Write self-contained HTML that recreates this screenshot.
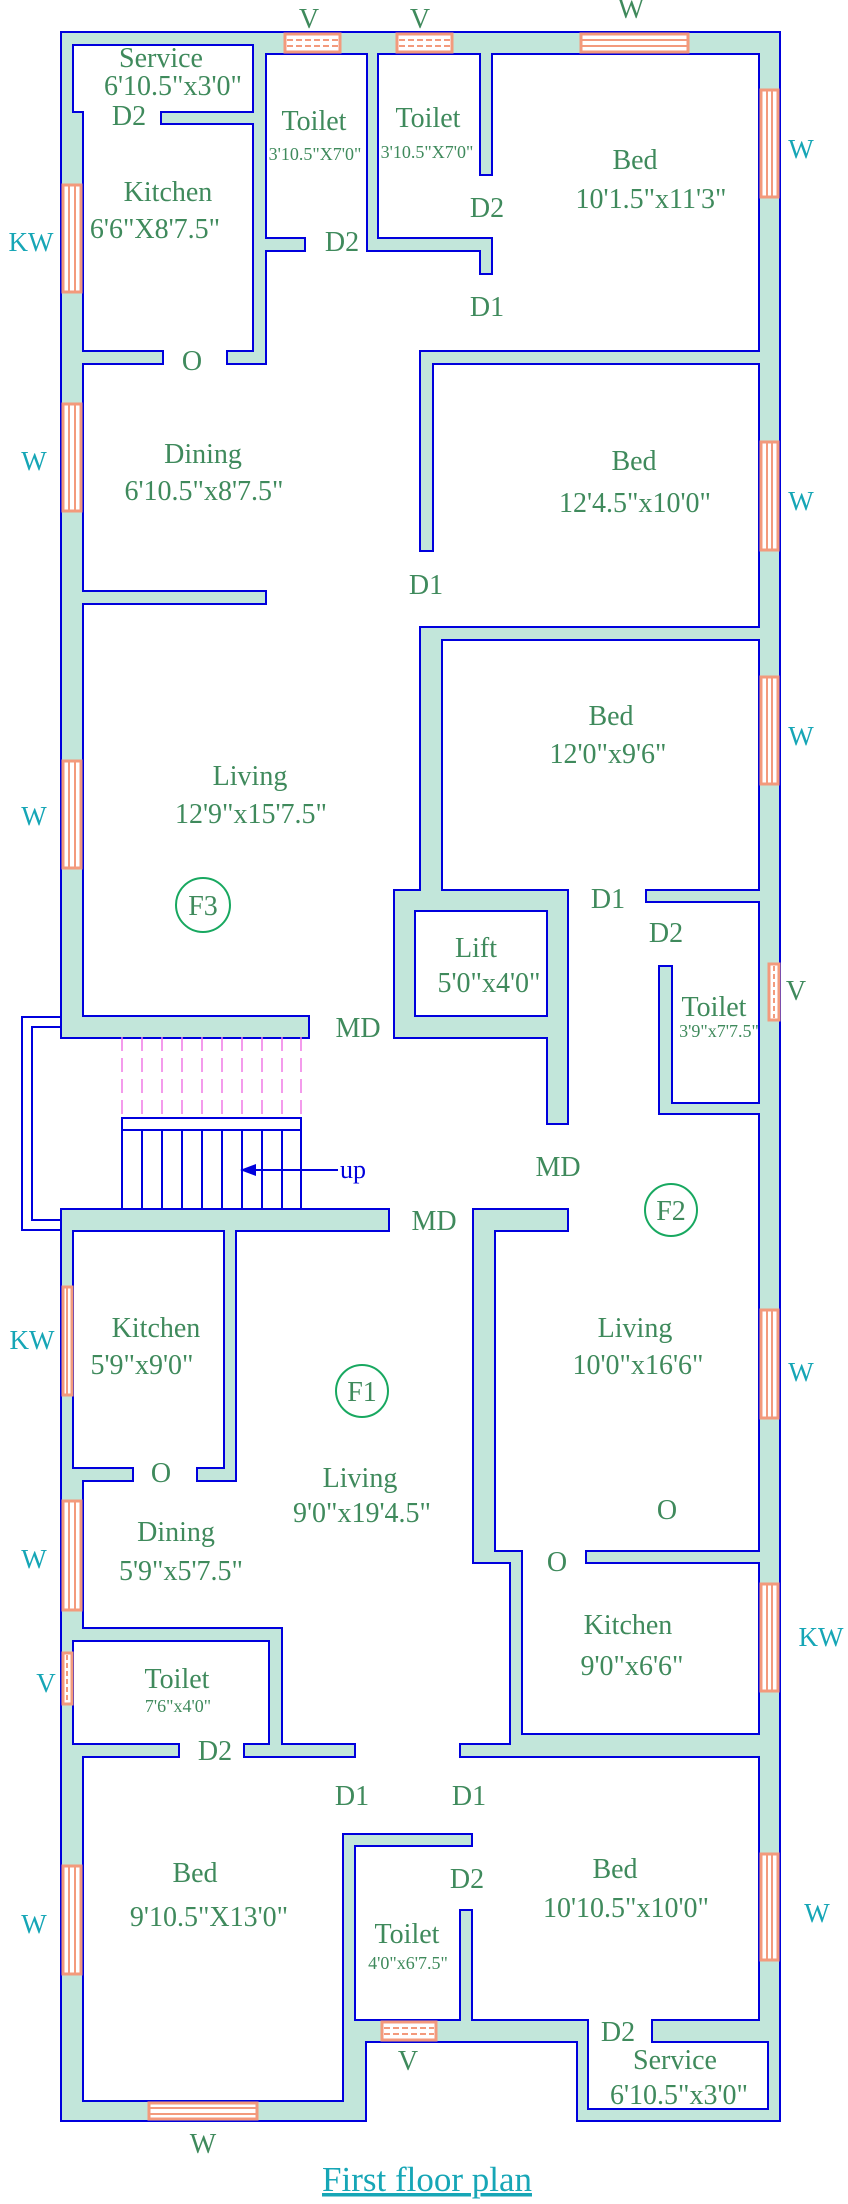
<!DOCTYPE html>
<html><head><meta charset="utf-8"><style>
html,body{margin:0;padding:0;background:#fff}
svg{display:block}
text{font-family:"Liberation Serif",serif;text-anchor:middle}
.g{fill:#3f8a5c;font-size:28px}
.s{fill:#3f8a5c;font-size:18px}
.c{fill:#16a6b6;font-size:27px}
.win{fill:#fff;stroke:#f39a7c;stroke-width:3}
.wl{stroke:#f39a7c;stroke-width:2}
</style></head><body>
<svg width="848" height="2204" viewBox="0 0 848 2204" xmlns="http://www.w3.org/2000/svg">
<defs>
<g id="walls">
<rect x="62" y="33" width="203" height="11"/>
<rect x="254" y="33" width="525" height="20"/>
<rect x="62" y="33" width="10" height="80"/>
<rect x="62" y="113" width="20" height="904"/>
<rect x="760" y="33" width="19" height="2008"/>
<rect x="254" y="33" width="11" height="330"/>
<rect x="162" y="113" width="103" height="10"/>
<rect x="82" y="352" width="80" height="11"/>
<rect x="228" y="352" width="37" height="11"/>
<rect x="265" y="239" width="39" height="11"/>
<rect x="368" y="53" width="9" height="197"/>
<rect x="368" y="239" width="123" height="11"/>
<rect x="481" y="239" width="10" height="34"/>
<rect x="481" y="53" width="10" height="121"/>
<rect x="421" y="352" width="339" height="11"/>
<rect x="421" y="352" width="11" height="198"/>
<rect x="62" y="592" width="203" height="11"/>
<rect x="421" y="628" width="339" height="11"/>
<rect x="421" y="628" width="20" height="273"/>
<rect x="395" y="891" width="172" height="19"/>
<rect x="395" y="891" width="19" height="146"/>
<rect x="395" y="1017" width="172" height="20"/>
<rect x="548" y="891" width="19" height="232"/>
<rect x="647" y="891" width="123" height="10"/>
<rect x="660" y="967" width="11" height="146"/>
<rect x="660" y="1104" width="110" height="9"/>
<rect x="62" y="1017" width="246" height="20"/>
<rect x="62" y="1210" width="326" height="20"/>
<rect x="62" y="1230" width="10" height="250"/>
<rect x="225" y="1230" width="10" height="250"/>
<rect x="72" y="1469" width="60" height="11"/>
<rect x="198" y="1469" width="37" height="11"/>
<rect x="62" y="1469" width="20" height="160"/>
<rect x="62" y="1629" width="219" height="11"/>
<rect x="62" y="1640" width="10" height="116"/>
<rect x="270" y="1629" width="11" height="127"/>
<rect x="62" y="1745" width="116" height="11"/>
<rect x="245" y="1745" width="109" height="11"/>
<rect x="62" y="1745" width="20" height="375"/>
<rect x="62" y="2102" width="303" height="18"/>
<rect x="344" y="1835" width="10" height="267"/>
<rect x="344" y="2041" width="21" height="79"/>
<rect x="344" y="1835" width="127" height="10"/>
<rect x="461" y="1911" width="10" height="110"/>
<rect x="344" y="2021" width="243" height="20"/>
<rect x="653" y="2021" width="126" height="20"/>
<rect x="578" y="2021" width="9" height="99"/>
<rect x="578" y="2110" width="201" height="10"/>
<rect x="769" y="2041" width="10" height="79"/>
<rect x="474" y="1210" width="20" height="352"/>
<rect x="474" y="1210" width="93" height="20"/>
<rect x="474" y="1552" width="47" height="10"/>
<rect x="511" y="1552" width="10" height="193"/>
<rect x="587" y="1552" width="173" height="10"/>
<rect x="511" y="1735" width="249" height="21"/>
<rect x="461" y="1745" width="60" height="11"/>
</g>
</defs>
<use href="#walls" fill="#0000dd" stroke="#0000dd" stroke-width="4"/>
<use href="#walls" fill="#c2e6da" stroke="none"/>

<g>
<rect class="win" x="285" y="34" width="55" height="18"/><line class="wl" x1="287" y1="40" x2="338" y2="40" stroke-dasharray="6 3"/><line class="wl" x1="287" y1="46" x2="338" y2="46" stroke-dasharray="6 3"/>
<rect class="win" x="397" y="34" width="55" height="18"/><line class="wl" x1="399" y1="40" x2="450" y2="40" stroke-dasharray="6 3"/><line class="wl" x1="399" y1="46" x2="450" y2="46" stroke-dasharray="6 3"/>
<rect class="win" x="581" y="34" width="107" height="18"/><line class="wl" x1="581" y1="40" x2="688" y2="40"/><line class="wl" x1="581" y1="46" x2="688" y2="46"/>
<rect class="win" x="149" y="2103" width="108" height="16"/><line class="wl" x1="149" y1="2108" x2="257" y2="2108"/><line class="wl" x1="149" y1="2114" x2="257" y2="2114"/>
<rect class="win" x="382" y="2022" width="54" height="18"/><line class="wl" x1="384" y1="2028" x2="434" y2="2028" stroke-dasharray="6 3"/><line class="wl" x1="384" y1="2034" x2="434" y2="2034" stroke-dasharray="6 3"/>
</g>
<g>
<rect class="win" x="761" y="90" width="17" height="107"/><line class="wl" x1="767" y1="90" x2="767" y2="197"/><line class="wl" x1="772" y1="90" x2="772" y2="197"/>
<rect class="win" x="761" y="442" width="17" height="108"/><line class="wl" x1="767" y1="442" x2="767" y2="550"/><line class="wl" x1="772" y1="442" x2="772" y2="550"/>
<rect class="win" x="761" y="677" width="17" height="107"/><line class="wl" x1="767" y1="677" x2="767" y2="784"/><line class="wl" x1="772" y1="677" x2="772" y2="784"/>
<rect class="win" x="769" y="964" width="10" height="56"/><line class="wl" x1="774" y1="966" x2="774" y2="1018" stroke-dasharray="5 3"/>
<rect class="win" x="761" y="1310" width="17" height="108"/><line class="wl" x1="767" y1="1310" x2="767" y2="1418"/><line class="wl" x1="772" y1="1310" x2="772" y2="1418"/>
<rect class="win" x="761" y="1584" width="17" height="107"/><line class="wl" x1="767" y1="1584" x2="767" y2="1691"/><line class="wl" x1="772" y1="1584" x2="772" y2="1691"/>
<rect class="win" x="761" y="1854" width="17" height="106"/><line class="wl" x1="767" y1="1854" x2="767" y2="1960"/><line class="wl" x1="772" y1="1854" x2="772" y2="1960"/>
<rect class="win" x="63" y="185" width="18" height="107"/><line class="wl" x1="69" y1="185" x2="69" y2="292"/><line class="wl" x1="75" y1="185" x2="75" y2="292"/>
<rect class="win" x="63" y="404" width="18" height="107"/><line class="wl" x1="69" y1="404" x2="69" y2="511"/><line class="wl" x1="75" y1="404" x2="75" y2="511"/>
<rect class="win" x="63" y="761" width="18" height="107"/><line class="wl" x1="69" y1="761" x2="69" y2="868"/><line class="wl" x1="75" y1="761" x2="75" y2="868"/>
<rect class="win" x="63" y="1287" width="9" height="108"/><line class="wl" x1="67" y1="1287" x2="67" y2="1395"/>
<rect class="win" x="63" y="1501" width="18" height="109"/><line class="wl" x1="69" y1="1501" x2="69" y2="1610"/><line class="wl" x1="75" y1="1501" x2="75" y2="1610"/>
<rect class="win" x="63" y="1653" width="9" height="51"/><line class="wl" x1="67" y1="1655" x2="67" y2="1702" stroke-dasharray="5 3"/>
<rect class="win" x="63" y="1866" width="18" height="108"/><line class="wl" x1="69" y1="1866" x2="69" y2="1974"/><line class="wl" x1="75" y1="1866" x2="75" y2="1974"/>
</g>

<g stroke="#f07ae6" stroke-width="1.5" stroke-dasharray="14 7">
<line x1="122" y1="1037" x2="122" y2="1118"/><line x1="142" y1="1037" x2="142" y2="1118"/><line x1="162" y1="1037" x2="162" y2="1118"/><line x1="182" y1="1037" x2="182" y2="1118"/><line x1="202" y1="1037" x2="202" y2="1118"/><line x1="222" y1="1037" x2="222" y2="1118"/><line x1="242" y1="1037" x2="242" y2="1118"/><line x1="262" y1="1037" x2="262" y2="1118"/><line x1="282" y1="1037" x2="282" y2="1118"/><line x1="301" y1="1037" x2="301" y2="1118"/>
</g>
<g stroke="#0000dd" stroke-width="2" fill="none">
<rect x="122" y="1118" width="179" height="12" fill="#fff"/>
<line x1="122" y1="1130" x2="122" y2="1210"/><line x1="142" y1="1130" x2="142" y2="1210"/><line x1="162" y1="1130" x2="162" y2="1210"/><line x1="182" y1="1130" x2="182" y2="1210"/><line x1="202" y1="1130" x2="202" y2="1210"/><line x1="222" y1="1130" x2="222" y2="1210"/><line x1="242" y1="1130" x2="242" y2="1210"/><line x1="262" y1="1130" x2="262" y2="1210"/><line x1="282" y1="1130" x2="282" y2="1210"/><line x1="301" y1="1130" x2="301" y2="1210"/>
<polyline points="62,1017 22,1017 22,1230 62,1230"/>
<polyline points="62,1027 32,1027 32,1220 62,1220"/>
<line x1="250" y1="1170" x2="338" y2="1170"/>
</g>
<polygon points="240,1170 256,1164 256,1176" fill="#0000dd"/>
<text x="353" y="1178" style="font-size:26px;fill:#0000dd">up</text>

<g fill="none" stroke="#18a860" stroke-width="2">
<circle cx="203" cy="905" r="27"/><circle cx="671" cy="1210" r="26"/><circle cx="362" cy="1391" r="26"/>
</g>
<text class="g" x="203" y="915">F3</text>
<text class="g" x="671" y="1220">F2</text>
<text class="g" x="362" y="1401">F1</text>

<text class="g" x="309" y="28">V</text><text class="g" x="420" y="28">V</text><text class="g" x="631" y="18">W</text>
<text class="g" x="161" y="67">Service</text><text class="g" x="173" y="95">6'10.5"x3'0"</text>
<text class="g" x="129" y="125">D2</text>
<text class="g" x="314" y="130">Toilet</text><text class="s" x="315" y="160">3'10.5"X7'0"</text>
<text class="g" x="428" y="127">Toilet</text><text class="s" x="427" y="158">3'10.5"X7'0"</text>
<text class="g" x="635" y="169">Bed</text><text class="g" x="651" y="208">10'1.5"x11'3"</text>
<text class="c" x="801" y="158">W</text>
<text class="g" x="168" y="201">Kitchen</text><text class="g" x="155" y="238">6'6"X8'7.5"</text>
<text class="c" x="31" y="251">KW</text>
<text class="g" x="342" y="251">D2</text><text class="g" x="487" y="217">D2</text><text class="g" x="487" y="316">D1</text>
<text class="g" x="192" y="370">O</text>
<text class="g" x="203" y="463">Dining</text><text class="g" x="204" y="500">6'10.5"x8'7.5"</text>
<text class="c" x="34" y="470">W</text>
<text class="g" x="634" y="470">Bed</text><text class="g" x="635" y="512">12'4.5"x10'0"</text>
<text class="c" x="801" y="510">W</text>
<text class="g" x="426" y="594">D1</text>
<text class="g" x="611" y="725">Bed</text><text class="g" x="608" y="763">12'0"x9'6"</text>
<text class="c" x="801" y="745">W</text>
<text class="g" x="250" y="785">Living</text><text class="g" x="251" y="823">12'9"x15'7.5"</text>
<text class="c" x="34" y="825">W</text>
<text class="g" x="476" y="957">Lift</text><text class="g" x="489" y="992">5'0"x4'0"</text>
<text class="g" x="358" y="1037">MD</text>
<text class="g" x="608" y="908">D1</text><text class="g" x="666" y="942">D2</text>
<text class="g" x="796" y="1000">V</text>
<text class="g" x="714" y="1016">Toilet</text><text class="s" x="719" y="1037">3'9"x7'7.5"</text>
<text class="g" x="558" y="1176">MD</text><text class="g" x="434" y="1230">MD</text>
<text class="c" x="32" y="1349">KW</text>
<text class="g" x="156" y="1337">Kitchen</text><text class="g" x="142" y="1374">5'9"x9'0"</text>
<text class="g" x="635" y="1337">Living</text><text class="g" x="638" y="1374">10'0"x16'6"</text>
<text class="c" x="801" y="1381">W</text>
<text class="g" x="161" y="1482">O</text><text class="g" x="667" y="1519">O</text><text class="g" x="557" y="1571">O</text>
<text class="g" x="360" y="1487">Living</text><text class="g" x="362" y="1522">9'0"x19'4.5"</text>
<text class="g" x="176" y="1541">Dining</text><text class="g" x="181" y="1580">5'9"x5'7.5"</text>
<text class="c" x="34" y="1568">W</text>
<text class="g" x="628" y="1634">Kitchen</text><text class="g" x="632" y="1675">9'0"x6'6"</text>
<text class="c" x="821" y="1646">KW</text>
<text class="c" x="46" y="1692">V</text>
<text class="g" x="177" y="1688">Toilet</text><text class="s" x="178" y="1712">7'6"x4'0"</text>
<text class="g" x="215" y="1760">D2</text>
<text class="g" x="352" y="1805">D1</text><text class="g" x="469" y="1805">D1</text>
<text class="g" x="195" y="1882">Bed</text><text class="g" x="209" y="1926">9'10.5"X13'0"</text>
<text class="c" x="34" y="1933">W</text>
<text class="g" x="467" y="1888">D2</text>
<text class="g" x="615" y="1878">Bed</text><text class="g" x="626" y="1917">10'10.5"x10'0"</text>
<text class="c" x="817" y="1922">W</text>
<text class="g" x="407" y="1943">Toilet</text><text class="s" x="408" y="1969">4'0"x6'7.5"</text>
<text class="g" x="618" y="2041">D2</text><text class="g" x="408" y="2070">V</text>
<text class="g" x="675" y="2069">Service</text><text class="g" x="679" y="2104">6'10.5"x3'0"</text>
<text class="g" x="203" y="2153">W</text>
<text x="427" y="2191" style="font-size:35px;fill:#16a6b6;text-decoration:underline">First floor plan</text>
</svg>
</body></html>
